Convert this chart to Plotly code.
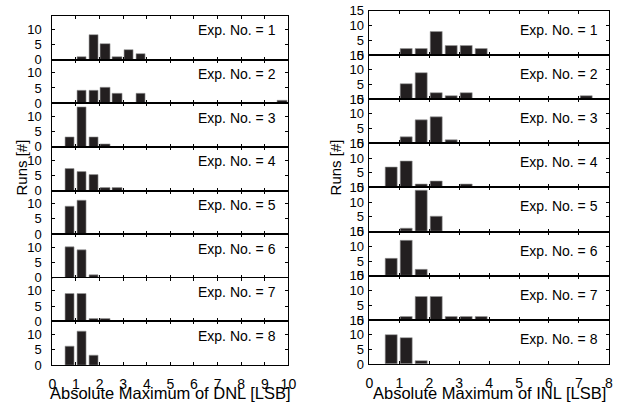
import plotly.graph_objects as go

# ---- data ----
dnl_bins = [0.25 + 0.5 * i for i in range(20)]   # bin centres, DNL
inl_bins = [0.25 + 0.5 * i for i in range(16)]   # bin centres, INL

dnl_exp1 = [0, 0, 1, 8, 5, 1, 3, 2, 0, 0, 0, 0, 0, 0, 0, 0, 0, 0, 0, 0]
dnl_exp2 = [0, 0, 4, 4, 5, 3, 0, 3, 0, 0, 0, 0, 0, 0, 0, 0, 0, 0, 0, 1]
dnl_exp3 = [0, 3, 13, 3, 1, 0, 0, 0, 0, 0, 0, 0, 0, 0, 0, 0, 0, 0, 0, 0]
dnl_exp4 = [0, 7, 6, 5, 1, 1, 0, 0, 0, 0, 0, 0, 0, 0, 0, 0, 0, 0, 0, 0]
dnl_exp5 = [0, 9, 11, 0, 0, 0, 0, 0, 0, 0, 0, 0, 0, 0, 0, 0, 0, 0, 0, 0]
dnl_exp6 = [0, 10, 9, 1, 0, 0, 0, 0, 0, 0, 0, 0, 0, 0, 0, 0, 0, 0, 0, 0]
dnl_exp7 = [0, 9, 9, 1, 1, 0, 0, 0, 0, 0, 0, 0, 0, 0, 0, 0, 0, 0, 0, 0]
dnl_exp8 = [0, 6, 11, 3, 0, 0, 0, 0, 0, 0, 0, 0, 0, 0, 0, 0, 0, 0, 0, 0]

inl_exp1 = [0, 0, 2, 2, 8, 3, 3, 2, 0, 0, 0, 0, 0, 0, 0, 0]
inl_exp2 = [0, 0, 5, 9, 2, 1, 2, 0, 0, 0, 0, 0, 0, 0, 1, 0]
inl_exp3 = [0, 0, 2, 8, 9, 1, 0, 0, 0, 0, 0, 0, 0, 0, 0, 0]
inl_exp4 = [0, 7, 9, 1, 2, 0, 1, 0, 0, 0, 0, 0, 0, 0, 0, 0]
inl_exp5 = [0, 0, 1, 14, 5, 0, 0, 0, 0, 0, 0, 0, 0, 0, 0, 0]
inl_exp6 = [0, 6, 12, 2, 0, 0, 0, 0, 0, 0, 0, 0, 0, 0, 0, 0]
inl_exp7 = [0, 0, 1, 8, 8, 1, 1, 1, 0, 0, 0, 0, 0, 0, 0, 0]
inl_exp8 = [0, 10, 9, 1, 0, 0, 0, 0, 0, 0, 0, 0, 0, 0, 0, 0]

dnl_sets = [dnl_exp1, dnl_exp2, dnl_exp3, dnl_exp4, dnl_exp5, dnl_exp6, dnl_exp7, dnl_exp8]
inl_sets = [inl_exp1, inl_exp2, inl_exp3, inl_exp4, inl_exp5, inl_exp6, inl_exp7, inl_exp8]
exp_labels = ["Exp. No. = %d" % n for n in range(1, 9)]

dnl_xticks = list(range(0, 11))
inl_xticks = list(range(0, 9))
dnl_yticks = [0, 5, 10]
inl_yticks = [0, 5, 10, 15]

# ---- layout geometry (pixels) ----
W, H = 621, 410
FONT = "Liberation Sans, Arial, sans-serif"
BAR = "#231f20"

fig = go.Figure()
layout = dict(width=W, height=H, margin=dict(l=0, r=0, t=0, b=0),
              paper_bgcolor="white", plot_bgcolor="white", showlegend=False,
              font=dict(family=FONT, color="black", size=13), bargap=0)
annotations = []

panels = [
    dict(sets=dnl_sets, bins=dnl_bins, x0=49.3, x1=290.0, top=9.3, bot=371.7,
         xr=[0, 10], yr=[0, 14.3], xt=dnl_xticks, yt=dnl_yticks, lx=0.958, ly=0.67,
         ystand=7),
    dict(sets=inl_sets, bins=inl_bins, x0=372.7, x1=616.7, top=4.0, bot=370.7,
         xr=[0, 8], yr=[0, 15], xt=inl_xticks, yt=inl_yticks, lx=0.963, ly=0.57,
         ystand=2),
]

k = 0
for p in panels:
    rh = (p["bot"] - p["top"]) / 8.0
    for r in range(8):
        k += 1
        sx = "" if k == 1 else str(k)
        counts = p["sets"][r]
        xs = [b for b, c in zip(p["bins"], counts) if c > 0]
        ys = [c for c in counts if c > 0]
        fig.add_trace(go.Bar(x=xs, y=ys, width=0.4, xaxis="x" + sx, yaxis="y" + sx,
                             marker=dict(color=BAR, line=dict(color="#9a9a9a", width=0.6)),
                             hoverinfo="skip"))
        ytop = p["top"] + r * rh
        ybot = ytop + rh
        last = (r == 7)
        layout["xaxis" + sx] = dict(
            domain=[p["x0"] / W, p["x1"] / W], range=p["xr"], anchor="y" + sx,
            tickvals=p["xt"], ticks="inside", ticklen=3, tickcolor="black",
            showline=True, linecolor="black", linewidth=1, mirror="ticks",
            showgrid=False, zeroline=False, showticklabels=last,
            tickfont=dict(size=14), ticklabelstandoff=6)
        layout["yaxis" + sx] = dict(
            domain=[1 - ybot / H, 1 - ytop / H], range=p["yr"], anchor="x" + sx,
            tickvals=p["yt"], ticks="inside", ticklen=3, tickcolor="black",
            showline=True, linecolor="black", linewidth=1, mirror="ticks",
            showgrid=False, zeroline=False, tickfont=dict(size=13),
            ticklabelstandoff=p["ystand"])
        annotations.append(dict(text=exp_labels[r], xref="x" + sx + " domain",
                                yref="y" + sx + " domain", x=p["lx"], y=p["ly"],
                                xanchor="right", yanchor="middle", showarrow=False,
                                font=dict(size=14)))

# axis titles
annotations += [
    dict(text="Runs [#]", xref="paper", yref="paper", x=18 / W, y=1 - 167 / H,
         textangle=-90, showarrow=False, font=dict(size=15), xanchor="center", yanchor="middle"),
    dict(text="Runs [#]", xref="paper", yref="paper", x=338 / W, y=1 - 166 / H,
         textangle=-90, showarrow=False, font=dict(size=15), xanchor="center", yanchor="middle"),
    dict(text="Absolute Maximum of DNL [LSB]", xref="paper", yref="paper", x=170 / W,
         y=1 - 401 / H, showarrow=False, font=dict(size=16.5), xanchor="center", yanchor="middle"),
    dict(text="Absolute Maximum of INL [LSB]", xref="paper", yref="paper", x=495 / W,
         y=1 - 401 / H, showarrow=False, font=dict(size=16.5), xanchor="center", yanchor="middle"),
]
layout["annotations"] = annotations
fig.update_layout(**layout)
fig.write_html("out.html")
